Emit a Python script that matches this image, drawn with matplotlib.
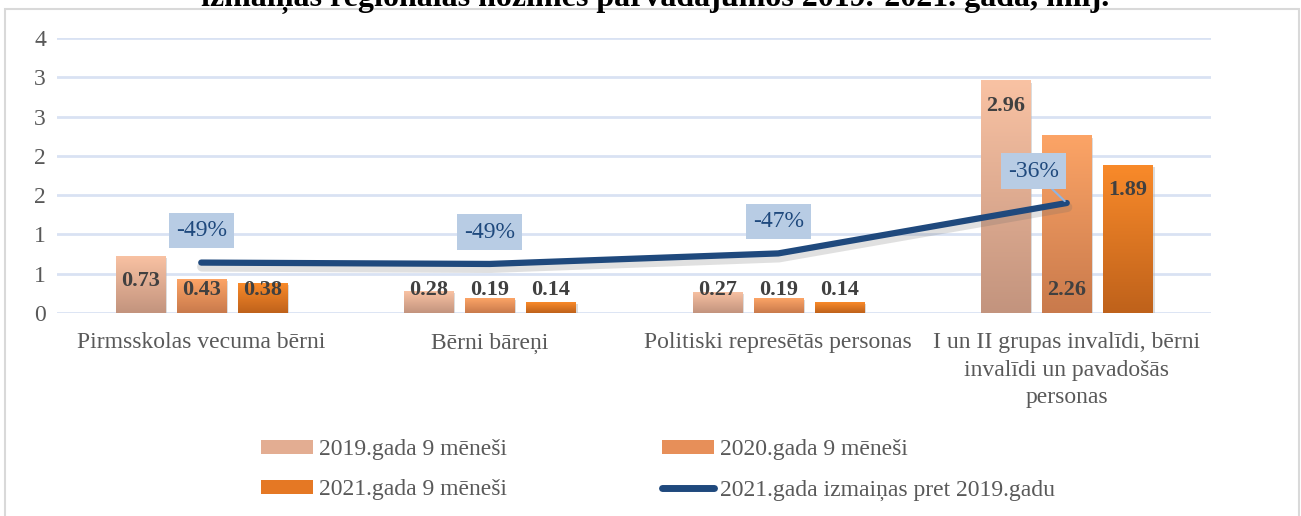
import numpy as np
import matplotlib
matplotlib.use("Agg")
import matplotlib.pyplot as plt
import matplotlib.patheffects as pe
from matplotlib.colors import LinearSegmentedColormap
from matplotlib.patches import Rectangle, Patch
from matplotlib.lines import Line2D

plt.rcParams["font.family"] = ["Liberation Serif", "DejaVu Serif"]

categories = ["Pirmsskolas vecuma bērni", "Bērni bāreņi", "Politiski represētās personas",
              "I un II grupas invalīdi, bērni\ninvalīdi un pavadošās\npersonas"]
series_names = ["2019.gada 9 mēneši", "2020.gada 9 mēneši", "2021.gada 9 mēneši"]
values_2019 = [0.73, 0.28, 0.27, 2.96]
values_2020 = [0.43, 0.19, 0.19, 2.26]
values_2021 = [0.38, 0.14, 0.14, 1.89]
change_name = "2021.gada izmaiņas pret 2019.gadu"
change = [-0.49, -0.493, -0.47, -0.36]
change_labels = ["-49%", "-49%", "-47%", "-36%"]
ytick_values = [0, 0.5, 1, 1.5, 2, 2.5, 3, 3.5]
ytick_labels = ["0", "1", "1", "2", "2", "3", "3", "4"]
title = "izmaiņas reģionālās nozīmes pārvadājumos 2019.-2021. gada, milj."

# gradient colors (top, bottom) per series
grad = [("#F9C2A3", "#C3947E"), ("#FCA466", "#C97A4C"), ("#F98A2A", "#BF621B")]
legend_colors = ["#E3AD92", "#E78F59", "#E57824"]
gray_text = "#595959"
line_color = "#1F497D"
fs = 17

fig = plt.figure(figsize=(13.01, 5.16), dpi=100)
ax = fig.add_axes([57 / 1301, 1 - 313 / 516, (1211 - 57) / 1301, (313 - 38) / 516])

# chart frame and clipped title
fig.patches.append(Rectangle((5 / 1301, -0.05), 1294 / 1301, 1.05 - 9 / 516, transform=fig.transFigure,
                             fill=False, edgecolor="#D9D9D9", lw=1.5))
fig.text(655 / 1301, 1 - 6 / 516, title, ha="center", va="baseline", fontsize=23, fontweight="bold")

x = np.arange(len(categories))
width = 0.17
offsets = [-0.212, 0, 0.212]
all_vals = [values_2019, values_2020, values_2021]

for i, vals in enumerate(all_vals):
    cmap = LinearSegmentedColormap.from_list("g%d" % i, [grad[i][1], grad[i][0]])
    bars = ax.bar(x + offsets[i], vals, width, color=grad[i][0], zorder=2,
                  path_effects=[pe.SimplePatchShadow(offset=(1.5, -1.5), shadow_rgbFace="#BBBBBB", alpha=0.5),
                                pe.Normal()])
    for b, v in zip(bars, vals):
        x0 = b.get_x()
        img = ax.imshow(np.linspace(0, 1, 100).reshape(-1, 1), cmap=cmap, origin="lower",
                        extent=(x0, x0 + width, 0, v), aspect="auto", zorder=3)
        img.set_clip_path(b)
        # 2020 labels sit at the base, the others at the inside end
        ly = 0.29 if i == 1 else max(v - 0.32, 0.29)
        ax.text(x0 + width / 2, ly, f"{v:.2f}", ha="center", va="center",
                fontsize=16, fontweight="bold", color="#404040", zorder=5)

ax.set_xlim(-0.5, len(categories) - 0.5)
ax.set_ylim(0, 3.5)
ax.set_yticks(ytick_values)
ax.set_yticklabels(ytick_labels, fontsize=fs, color=gray_text)
ax.set_xticks(x)
ax.set_xticklabels(categories, fontsize=fs, color=gray_text, linespacing=1.4)
ax.tick_params(axis="both", length=0)
ax.tick_params(axis="y", pad=8)
ax.tick_params(axis="x", pad=14)
ax.grid(axis="y", color="#D9E2F3", lw=2)
ax.set_axisbelow(True)
for s in ax.spines.values():
    s.set_visible(False)
ax.set_aspect("auto")

# percent change on hidden secondary axis
ax2 = ax.twinx()
ax2.set_ylim(-0.6, 0)
ax2.axis("off")
ax2.plot(x, change, color=line_color, lw=4.5, solid_capstyle="round", solid_joinstyle="round", zorder=4,
         path_effects=[pe.SimpleLineShadow(offset=(0.5, -3), shadow_color="#666666", alpha=0.2, linewidth=7),
                       pe.Normal()])
for i, (c, lab) in enumerate(zip(change, change_labels)):
    last = i == len(change) - 1
    ax2.annotate(lab, (x[i], c), xytext=(-24 if last else 0, 23), textcoords="offset points",
                 ha="center", va="center", fontsize=fs, color=line_color, zorder=6,
                 bbox=dict(boxstyle="square,pad=0.3", fc="#B8CCE4", ec="none"),
                 arrowprops=dict(arrowstyle="-", color="#8EB4E3", lw=1.5, shrinkA=0, shrinkB=2) if last else None)

patches = [Patch(facecolor=legend_colors[i], lw=0) for i in range(3)]
line_handle = Line2D([0], [0], color=line_color, lw=5, solid_capstyle="round")
# column-first fill: order so rows read 2019, 2020 / 2021, change
handles = [patches[0], patches[2], patches[1], line_handle]
labels = [series_names[0], series_names[2], series_names[1], change_name]
leg = fig.legend(handles, labels, loc="center", bbox_to_anchor=(658 / 1301, 1 - 470 / 516), ncol=2,
                 frameon=False, fontsize=fs, labelcolor=gray_text, handlelength=2.2, handleheight=0.55,
                 handletextpad=0.25, columnspacing=6.6, labelspacing=0.8)

fig.savefig("out.png", dpi=100)
